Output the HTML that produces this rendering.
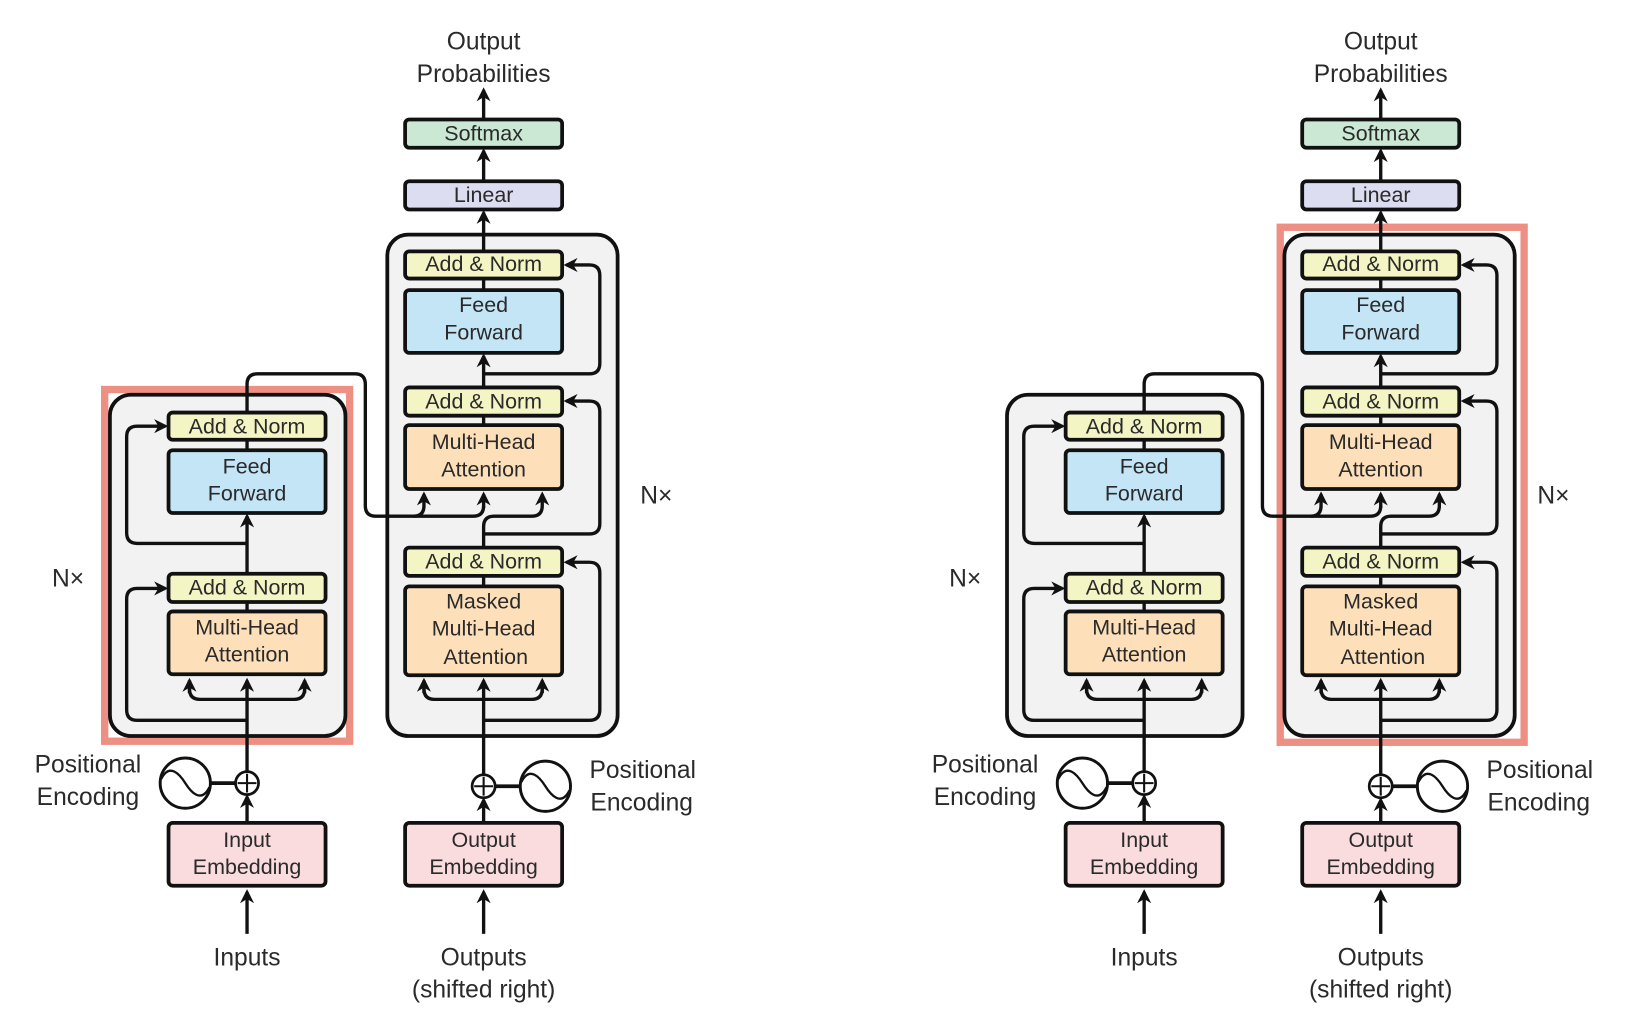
<!DOCTYPE html>
<html><head><meta charset="utf-8"><style>
html,body{margin:0;padding:0;background:#fff;width:1633px;height:1024px;overflow:hidden}
svg{display:block}
text{font-family:"Liberation Sans",sans-serif;fill:#2a2a2a;text-anchor:middle}
.b{font-size:20.5px}
.l{font-size:23.5px}
.k{stroke:#111;stroke-width:3.6}
.ln{fill:none;stroke:#111;stroke-width:3.2;stroke-linecap:butt}
</style></head><body>
<svg width="1633" height="1024" viewBox="0 0 1560 978" xmlns="http://www.w3.org/2000/svg">
<defs>
<marker id="a" viewBox="0 0 10 10" refX="8" refY="5" markerWidth="4.2" markerHeight="4.2" orient="auto" markerUnits="strokeWidth">
<path d="M0,0 L10,5 L0,10 L3,5 z" fill="#111"/>
</marker>
</defs>

<!-- ================= LEFT DIAGRAM ================= -->
<g>
<rect x="100" y="372" width="234" height="336" fill="none" stroke="#ee8f84" stroke-width="7"/>
<rect x="105" y="377" width="225" height="326" rx="20" fill="#f2f2f2" class="k"/>
<rect x="370" y="224" width="220" height="479" rx="20" fill="#f2f2f2" class="k"/>

<path class="ln" d="M236,892 L236,852" marker-end="url(#a)"/>
<path class="ln" d="M236,786 L236,761" marker-end="url(#a)"/>
<path class="ln" d="M236,737 L236,650" marker-end="url(#a)"/>
<path class="ln" d="M181,650 L181,658 Q181,668 191,668 L281,668 Q291,668 291,658 L291,650"/>
<path class="ln" d="M181,662 L181,650" marker-end="url(#a)"/>
<path class="ln" d="M291,662 L291,650" marker-end="url(#a)"/>
<path class="ln" d="M236,688 L131,688 Q121,688 121,678 L121,572 Q121,562 131,562 L158,562" marker-end="url(#a)"/>
<path class="ln" d="M236,584 L236,575"/>
<path class="ln" d="M236,548 L236,493" marker-end="url(#a)"/>
<path class="ln" d="M236,519 L131,519 Q121,519 121,509 L121,417 Q121,407 131,407 L158,407" marker-end="url(#a)"/>
<path class="ln" d="M236,430 L236,420"/>
<path class="ln" d="M236,394 L236,367 Q236,357 246,357 L339,357 Q349,357 349,367 L349,483 Q349,493 359,493 L452,493 Q462,493 462,483"/>
<path class="ln" d="M395,493 Q405,493 405,483 L405,472" marker-end="url(#a)"/>
<path class="ln" d="M462,485 L462,472" marker-end="url(#a)"/>

<path class="ln" d="M462,892 L462,852" marker-end="url(#a)"/>
<path class="ln" d="M462,786 L462,764" marker-end="url(#a)"/>
<path class="ln" d="M462,740 L462,650" marker-end="url(#a)"/>
<path class="ln" d="M405,650 L405,658 Q405,668 415,668 L508,668 Q518,668 518,658 L518,650"/>
<path class="ln" d="M405,662 L405,650" marker-end="url(#a)"/>
<path class="ln" d="M518,662 L518,650" marker-end="url(#a)"/>
<path class="ln" d="M462,688 L563,688 Q573,688 573,678 L573,547 Q573,537 563,537 L541,537" marker-end="url(#a)"/>
<path class="ln" d="M462,560 L462,550"/>
<path class="ln" d="M462,523 L462,503 Q462,493 472,493 L508,493 Q518,493 518,483 L518,472" marker-end="url(#a)"/>
<path class="ln" d="M462,510 L563,510 Q573,510 573,500 L573,393 Q573,383 563,383 L541,383" marker-end="url(#a)"/>
<path class="ln" d="M462,406 L462,397"/>
<path class="ln" d="M462,370 L462,340" marker-end="url(#a)"/>
<path class="ln" d="M462,357 L563,357 Q573,357 573,347 L573,263 Q573,253 563,253 L541,253" marker-end="url(#a)"/>
<path class="ln" d="M462,277 L462,266"/>
<path class="ln" d="M462,240 L462,203" marker-end="url(#a)"/>
<path class="ln" d="M462,173 L462,144" marker-end="url(#a)"/>
<path class="ln" d="M462,114 L462,86" marker-end="url(#a)"/>

<rect x="161" y="394" width="150" height="26" rx="4" fill="#f3f5c4" class="k"/>
<text class="b" x="236" y="414">Add &amp; Norm</text>
<rect x="161" y="430" width="150" height="60" rx="4" fill="#c3e5f5" class="k"/>
<text class="b" x="236" y="452">Feed</text><text class="b" x="236" y="478">Forward</text>
<rect x="161" y="548" width="150" height="27" rx="4" fill="#f3f5c4" class="k"/>
<text class="b" x="236" y="568">Add &amp; Norm</text>
<rect x="161" y="584" width="150" height="60" rx="4" fill="#fde0ba" class="k"/>
<text class="b" x="236" y="606">Multi-Head</text><text class="b" x="236" y="632">Attention</text>
<rect x="161" y="786" width="150" height="60" rx="4" fill="#fadcdf" class="k"/>
<text class="b" x="236" y="809">Input</text><text class="b" x="236" y="835">Embedding</text>

<rect x="387" y="114" width="150" height="27" rx="4" fill="#cae8d3" class="k"/>
<text class="b" x="462" y="134">Softmax</text>
<rect x="387" y="173" width="150" height="27" rx="4" fill="#dcddf0" class="k"/>
<text class="b" x="462" y="193">Linear</text>
<rect x="387" y="240" width="150" height="26" rx="4" fill="#f3f5c4" class="k"/>
<text class="b" x="462" y="259">Add &amp; Norm</text>
<rect x="387" y="277" width="150" height="60" rx="4" fill="#c3e5f5" class="k"/>
<text class="b" x="462" y="298">Feed</text><text class="b" x="462" y="324">Forward</text>
<rect x="387" y="370" width="150" height="27" rx="4" fill="#f3f5c4" class="k"/>
<text class="b" x="462" y="390">Add &amp; Norm</text>
<rect x="387" y="406" width="150" height="61" rx="4" fill="#fde0ba" class="k"/>
<text class="b" x="462" y="429">Multi-Head</text><text class="b" x="462" y="455">Attention</text>
<rect x="387" y="523" width="150" height="27" rx="4" fill="#f3f5c4" class="k"/>
<text class="b" x="462" y="543">Add &amp; Norm</text>
<rect x="387" y="560" width="150" height="85" rx="4" fill="#fde0ba" class="k"/>
<text class="b" x="462" y="581">Masked</text><text class="b" x="462" y="607">Multi-Head</text><text class="b" x="464" y="634">Attention</text>
<rect x="387" y="786" width="150" height="60" rx="4" fill="#fadcdf" class="k"/>
<text class="b" x="462" y="809">Output</text><text class="b" x="462" y="835">Embedding</text>

<line x1="200" y1="748" x2="225" y2="748" class="k"/>
<circle cx="236" cy="748" r="11" fill="#fff" stroke="#111" stroke-width="2.6"/>
<path d="M236,739 V757 M227,748 H245" stroke="#111" stroke-width="2"/>
<circle cx="177" cy="748" r="24" fill="#fff" stroke="#111" stroke-width="2.8"/>
<path d="M154,744 C162,728 172,740 177,748 C182,756 192,768 200,752" fill="none" stroke="#111" stroke-width="2.2"/>
<line x1="473" y1="751" x2="498" y2="751" class="k"/>
<circle cx="462" cy="751" r="11" fill="#fff" stroke="#111" stroke-width="2.6"/>
<path d="M462,742 V760 M453,751 H471" stroke="#111" stroke-width="2"/>
<circle cx="521" cy="751" r="24" fill="#fff" stroke="#111" stroke-width="2.8"/>
<path d="M498,747 C506,731 516,743 521,751 C526,759 536,771 544,755" fill="none" stroke="#111" stroke-width="2.2"/>

<text class="l" x="462" y="47">Output</text>
<text class="l" x="462" y="78">Probabilities</text>
<text class="l" x="84" y="738">Positional</text>
<text class="l" x="84" y="769">Encoding</text>
<text class="l" x="614" y="743">Positional</text>
<text class="l" x="613" y="774">Encoding</text>
<text class="l" x="236" y="922">Inputs</text>
<text class="l" x="462" y="922">Outputs</text>
<text class="l" x="462" y="953">(shifted right)</text>
<text class="l" x="65" y="560">N×</text>
<text class="l" x="627" y="481">N×</text>
</g>

<!-- ================= RIGHT DIAGRAM ================= -->
<g transform="translate(857,0)">
<rect x="105" y="377" width="225" height="326" rx="20" fill="#f2f2f2" class="k"/>
<rect x="366" y="217" width="233" height="492" fill="none" stroke="#ee8f84" stroke-width="7"/>
<rect x="370" y="224" width="220" height="479" rx="20" fill="#f2f2f2" class="k"/>

<path class="ln" d="M236,892 L236,852" marker-end="url(#a)"/>
<path class="ln" d="M236,786 L236,761" marker-end="url(#a)"/>
<path class="ln" d="M236,737 L236,650" marker-end="url(#a)"/>
<path class="ln" d="M181,650 L181,658 Q181,668 191,668 L281,668 Q291,668 291,658 L291,650"/>
<path class="ln" d="M181,662 L181,650" marker-end="url(#a)"/>
<path class="ln" d="M291,662 L291,650" marker-end="url(#a)"/>
<path class="ln" d="M236,688 L131,688 Q121,688 121,678 L121,572 Q121,562 131,562 L158,562" marker-end="url(#a)"/>
<path class="ln" d="M236,584 L236,575"/>
<path class="ln" d="M236,548 L236,493" marker-end="url(#a)"/>
<path class="ln" d="M236,519 L131,519 Q121,519 121,509 L121,417 Q121,407 131,407 L158,407" marker-end="url(#a)"/>
<path class="ln" d="M236,430 L236,420"/>
<path class="ln" d="M236,394 L236,367 Q236,357 246,357 L339,357 Q349,357 349,367 L349,483 Q349,493 359,493 L452,493 Q462,493 462,483"/>
<path class="ln" d="M395,493 Q405,493 405,483 L405,472" marker-end="url(#a)"/>
<path class="ln" d="M462,485 L462,472" marker-end="url(#a)"/>

<path class="ln" d="M462,892 L462,852" marker-end="url(#a)"/>
<path class="ln" d="M462,786 L462,764" marker-end="url(#a)"/>
<path class="ln" d="M462,740 L462,650" marker-end="url(#a)"/>
<path class="ln" d="M405,650 L405,658 Q405,668 415,668 L508,668 Q518,668 518,658 L518,650"/>
<path class="ln" d="M405,662 L405,650" marker-end="url(#a)"/>
<path class="ln" d="M518,662 L518,650" marker-end="url(#a)"/>
<path class="ln" d="M462,688 L563,688 Q573,688 573,678 L573,547 Q573,537 563,537 L541,537" marker-end="url(#a)"/>
<path class="ln" d="M462,560 L462,550"/>
<path class="ln" d="M462,523 L462,503 Q462,493 472,493 L508,493 Q518,493 518,483 L518,472" marker-end="url(#a)"/>
<path class="ln" d="M462,510 L563,510 Q573,510 573,500 L573,393 Q573,383 563,383 L541,383" marker-end="url(#a)"/>
<path class="ln" d="M462,406 L462,397"/>
<path class="ln" d="M462,370 L462,340" marker-end="url(#a)"/>
<path class="ln" d="M462,357 L563,357 Q573,357 573,347 L573,263 Q573,253 563,253 L541,253" marker-end="url(#a)"/>
<path class="ln" d="M462,277 L462,266"/>
<path class="ln" d="M462,240 L462,203" marker-end="url(#a)"/>
<path class="ln" d="M462,173 L462,144" marker-end="url(#a)"/>
<path class="ln" d="M462,114 L462,86" marker-end="url(#a)"/>

<rect x="161" y="394" width="150" height="26" rx="4" fill="#f3f5c4" class="k"/>
<text class="b" x="236" y="414">Add &amp; Norm</text>
<rect x="161" y="430" width="150" height="60" rx="4" fill="#c3e5f5" class="k"/>
<text class="b" x="236" y="452">Feed</text><text class="b" x="236" y="478">Forward</text>
<rect x="161" y="548" width="150" height="27" rx="4" fill="#f3f5c4" class="k"/>
<text class="b" x="236" y="568">Add &amp; Norm</text>
<rect x="161" y="584" width="150" height="60" rx="4" fill="#fde0ba" class="k"/>
<text class="b" x="236" y="606">Multi-Head</text><text class="b" x="236" y="632">Attention</text>
<rect x="161" y="786" width="150" height="60" rx="4" fill="#fadcdf" class="k"/>
<text class="b" x="236" y="809">Input</text><text class="b" x="236" y="835">Embedding</text>

<rect x="387" y="114" width="150" height="27" rx="4" fill="#cae8d3" class="k"/>
<text class="b" x="462" y="134">Softmax</text>
<rect x="387" y="173" width="150" height="27" rx="4" fill="#dcddf0" class="k"/>
<text class="b" x="462" y="193">Linear</text>
<rect x="387" y="240" width="150" height="26" rx="4" fill="#f3f5c4" class="k"/>
<text class="b" x="462" y="259">Add &amp; Norm</text>
<rect x="387" y="277" width="150" height="60" rx="4" fill="#c3e5f5" class="k"/>
<text class="b" x="462" y="298">Feed</text><text class="b" x="462" y="324">Forward</text>
<rect x="387" y="370" width="150" height="27" rx="4" fill="#f3f5c4" class="k"/>
<text class="b" x="462" y="390">Add &amp; Norm</text>
<rect x="387" y="406" width="150" height="61" rx="4" fill="#fde0ba" class="k"/>
<text class="b" x="462" y="429">Multi-Head</text><text class="b" x="462" y="455">Attention</text>
<rect x="387" y="523" width="150" height="27" rx="4" fill="#f3f5c4" class="k"/>
<text class="b" x="462" y="543">Add &amp; Norm</text>
<rect x="387" y="560" width="150" height="85" rx="4" fill="#fde0ba" class="k"/>
<text class="b" x="462" y="581">Masked</text><text class="b" x="462" y="607">Multi-Head</text><text class="b" x="464" y="634">Attention</text>
<rect x="387" y="786" width="150" height="60" rx="4" fill="#fadcdf" class="k"/>
<text class="b" x="462" y="809">Output</text><text class="b" x="462" y="835">Embedding</text>

<line x1="200" y1="748" x2="225" y2="748" class="k"/>
<circle cx="236" cy="748" r="11" fill="#fff" stroke="#111" stroke-width="2.6"/>
<path d="M236,739 V757 M227,748 H245" stroke="#111" stroke-width="2"/>
<circle cx="177" cy="748" r="24" fill="#fff" stroke="#111" stroke-width="2.8"/>
<path d="M154,744 C162,728 172,740 177,748 C182,756 192,768 200,752" fill="none" stroke="#111" stroke-width="2.2"/>
<line x1="473" y1="751" x2="498" y2="751" class="k"/>
<circle cx="462" cy="751" r="11" fill="#fff" stroke="#111" stroke-width="2.6"/>
<path d="M462,742 V760 M453,751 H471" stroke="#111" stroke-width="2"/>
<circle cx="521" cy="751" r="24" fill="#fff" stroke="#111" stroke-width="2.8"/>
<path d="M498,747 C506,731 516,743 521,751 C526,759 536,771 544,755" fill="none" stroke="#111" stroke-width="2.2"/>

<text class="l" x="462" y="47">Output</text>
<text class="l" x="462" y="78">Probabilities</text>
<text class="l" x="84" y="738">Positional</text>
<text class="l" x="84" y="769">Encoding</text>
<text class="l" x="614" y="743">Positional</text>
<text class="l" x="613" y="774">Encoding</text>
<text class="l" x="236" y="922">Inputs</text>
<text class="l" x="462" y="922">Outputs</text>
<text class="l" x="462" y="953">(shifted right)</text>
<text class="l" x="65" y="560">N×</text>
<text class="l" x="627" y="481">N×</text>
</g>
</svg>
</body></html>
